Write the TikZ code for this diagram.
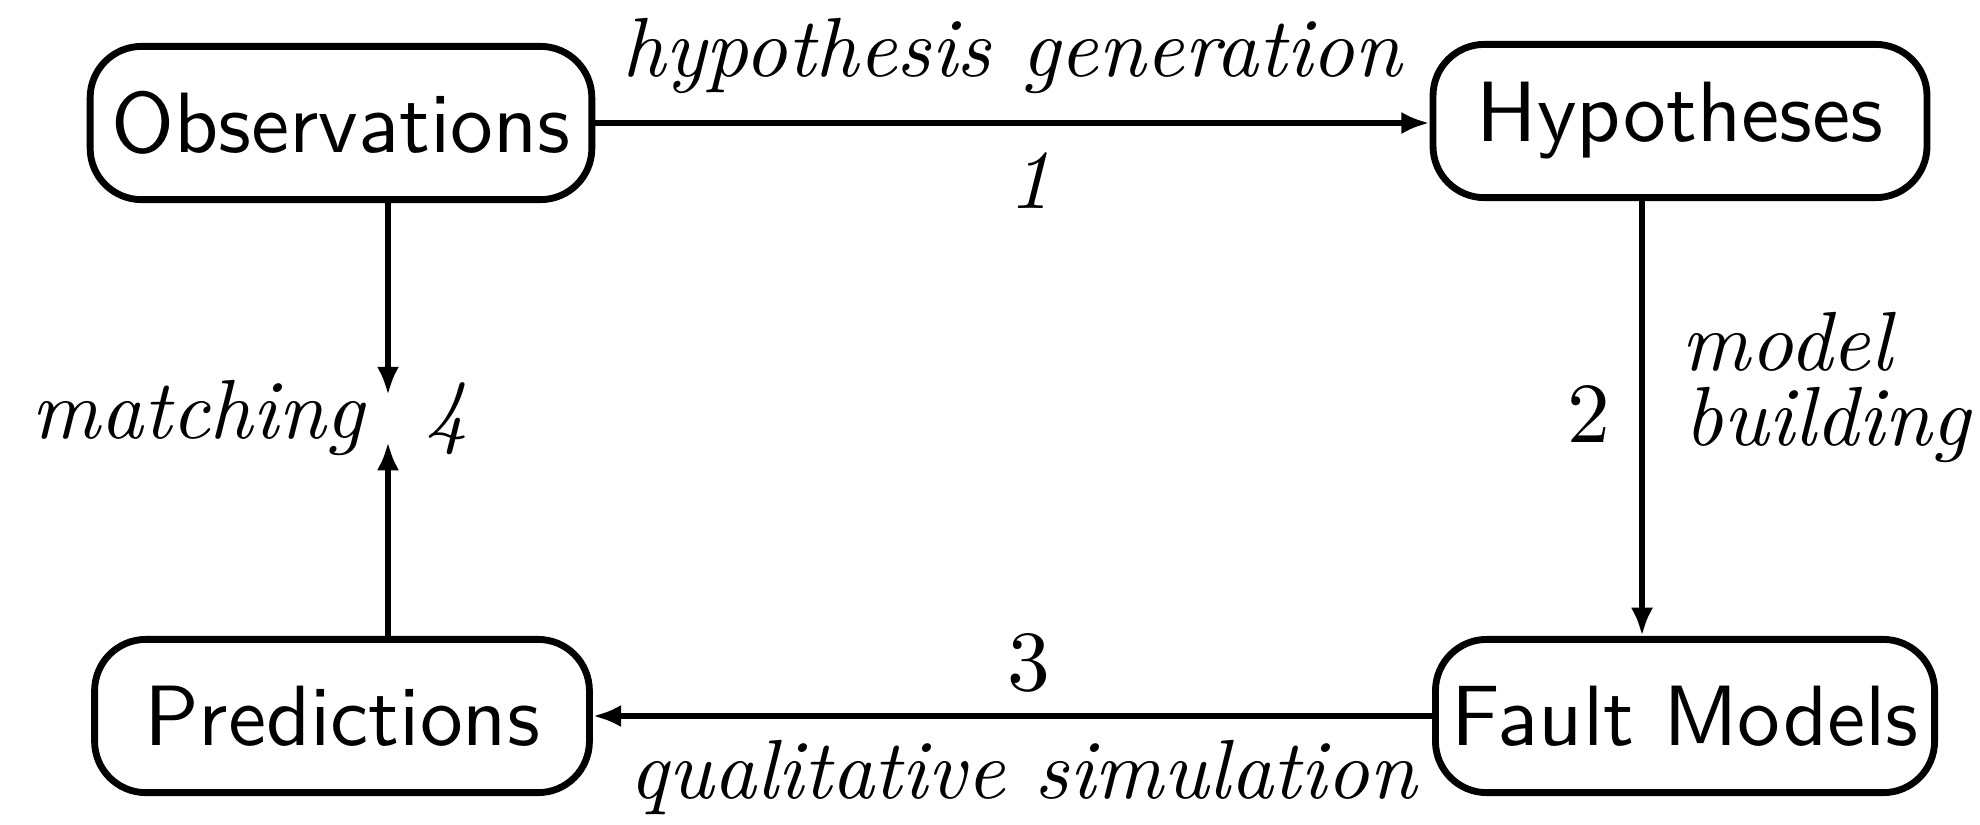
\documentclass[tikz,border=0pt]{standalone}
\usetikzlibrary{arrows.meta}
\begin{document}
\begin{tikzpicture}[x=0.1168pt,y=-0.1168pt,
  box/.style={draw,line width=0.8pt,rounded corners=6pt,font=\sffamily,minimum height=17.9pt,inner sep=0pt},
  conn/.style={line width=0.8pt,-{Latex[length=3.3pt,width=2.6pt]}},
  lab/.style={font=\fontsize{9.8pt}{11pt}\selectfont\itshape,inner sep=0pt},
  num/.style={inner sep=0pt}]
\useasboundingbox (0,0) rectangle (1980,824);
\node[box,minimum width=58.6pt] (obs) at (341,123) {Observations};
\node[box,minimum width=57.7pt] (hyp) at (1680,121) {Hypotheses};
\node[box,minimum width=57.8pt] (pred) at (342,716) {Predictions};
\node[box,minimum width=58.3pt] (fm) at (1685,716) {Fault Models};
\coordinate (rx) at (1642,0);
\coordinate (m1) at (388,395);
\coordinate (m2) at (388,442);
\draw[conn] (obs.east) -- (obs.east -| hyp.west);
\draw[conn] (hyp.south -| rx) -- (fm.north -| rx);
\draw[conn] (fm.west) -- (fm.west -| pred.east);
\draw[conn] (obs.south -| m1) -- (m1);
\draw[conn] (pred.north -| m2) -- (m2);
\node[lab,anchor=base] (t1) at (1012,76) {hypothesis generation};
\node[lab,anchor=base] (n1) at (1030,208) {1};
\node[num,anchor=base] (n2) at (1589,442) {2};
\node[lab,anchor=base west] (t2a) at (1680,370) {model};
\node[lab,anchor=base west] (t2b) at (1683,445) {building};
\node[num,anchor=base] (n3) at (1029,690) {3};
\node[lab,anchor=base] (t3) at (1023,798) {qualitative simulation};
\node[lab,anchor=base west] (t4) at (30,438) {matching};
\node[lab,anchor=base] (n4) at (447,438) {4};
\end{tikzpicture}
\end{document}
